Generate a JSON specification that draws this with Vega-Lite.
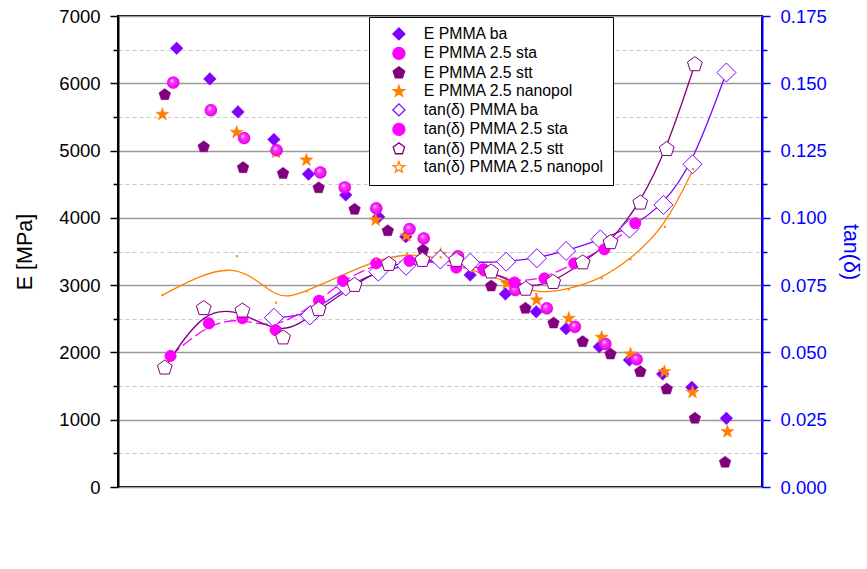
{
  "$schema": "https://vega.github.io/schema/vega-lite/v6.json",
  "width": 644,
  "height": 471,
  "autosize": {"type": "none"},
  "padding": {"left": 118, "top": 16, "right": 105, "bottom": 82},
  "config": {
    "view": {"stroke": "black", "strokeWidth": 2},
    "font": "Liberation Sans"
  },
  "datasets": {
    "edata": [
      {"series": "E PMMA ba", "T": -62.7, "E": 6520},
      {"series": "E PMMA ba", "T": -52.9, "E": 6065},
      {"series": "E PMMA ba", "T": -44.6, "E": 5575},
      {"series": "E PMMA ba", "T": -34.0, "E": 5165},
      {"series": "E PMMA ba", "T": -23.8, "E": 4650},
      {"series": "E PMMA ba", "T": -12.8, "E": 4340},
      {"series": "E PMMA ba", "T": -3.1, "E": 4015},
      {"series": "E PMMA ba", "T": 4.9, "E": 3720},
      {"series": "E PMMA ba", "T": 15.2, "E": 3410},
      {"series": "E PMMA ba", "T": 23.9, "E": 3150},
      {"series": "E PMMA ba", "T": 34.3, "E": 2870},
      {"series": "E PMMA ba", "T": 43.4, "E": 2605},
      {"series": "E PMMA ba", "T": 52.2, "E": 2352},
      {"series": "E PMMA ba", "T": 62.0, "E": 2085},
      {"series": "E PMMA ba", "T": 70.9, "E": 1887},
      {"series": "E PMMA ba", "T": 80.7, "E": 1679},
      {"series": "E PMMA ba", "T": 89.3, "E": 1481},
      {"series": "E PMMA ba", "T": 99.5, "E": 1021},
      {"series": "E PMMA 2.5 sta", "T": -63.7, "E": 6010},
      {"series": "E PMMA 2.5 sta", "T": -52.6, "E": 5600},
      {"series": "E PMMA 2.5 sta", "T": -42.8, "E": 5185},
      {"series": "E PMMA 2.5 sta", "T": -33.2, "E": 5005},
      {"series": "E PMMA 2.5 sta", "T": -20.3, "E": 4675},
      {"series": "E PMMA 2.5 sta", "T": -13.1, "E": 4453},
      {"series": "E PMMA 2.5 sta", "T": -3.8, "E": 4141},
      {"series": "E PMMA 2.5 sta", "T": 6.0, "E": 3833},
      {"series": "E PMMA 2.5 sta", "T": 10.2, "E": 3695},
      {"series": "E PMMA 2.5 sta", "T": 20.3, "E": 3430},
      {"series": "E PMMA 2.5 sta", "T": 28.1, "E": 3222},
      {"series": "E PMMA 2.5 sta", "T": 37.2, "E": 2927},
      {"series": "E PMMA 2.5 sta", "T": 46.5, "E": 2655},
      {"series": "E PMMA 2.5 sta", "T": 54.8, "E": 2380},
      {"series": "E PMMA 2.5 sta", "T": 63.8, "E": 2125},
      {"series": "E PMMA 2.5 sta", "T": 73.0, "E": 1897},
      {"series": "E PMMA 2.5 stt", "T": -66.2, "E": 5830},
      {"series": "E PMMA 2.5 stt", "T": -54.7, "E": 5055},
      {"series": "E PMMA 2.5 stt", "T": -43.1, "E": 4745},
      {"series": "E PMMA 2.5 stt", "T": -31.3, "E": 4660},
      {"series": "E PMMA 2.5 stt", "T": -20.8, "E": 4447},
      {"series": "E PMMA 2.5 stt", "T": -10.2, "E": 4126},
      {"series": "E PMMA 2.5 stt", "T": -0.4, "E": 3808},
      {"series": "E PMMA 2.5 stt", "T": 10.0, "E": 3521},
      {"series": "E PMMA 2.5 stt", "T": 30.1, "E": 2987},
      {"series": "E PMMA 2.5 stt", "T": 40.2, "E": 2655},
      {"series": "E PMMA 2.5 stt", "T": 48.5, "E": 2436},
      {"series": "E PMMA 2.5 stt", "T": 57.1, "E": 2159},
      {"series": "E PMMA 2.5 stt", "T": 65.3, "E": 1976},
      {"series": "E PMMA 2.5 stt", "T": 74.1, "E": 1713},
      {"series": "E PMMA 2.5 stt", "T": 81.9, "E": 1456},
      {"series": "E PMMA 2.5 stt", "T": 90.2, "E": 1021},
      {"series": "E PMMA 2.5 stt", "T": 99.1, "E": 367},
      {"series": "E PMMA 2.5 nanopol", "T": -66.9, "E": 5538},
      {"series": "E PMMA 2.5 nanopol", "T": -45.0, "E": 5270},
      {"series": "E PMMA 2.5 nanopol", "T": -33.4, "E": 4973},
      {"series": "E PMMA 2.5 nanopol", "T": -24.4, "E": 4859},
      {"series": "E PMMA 2.5 nanopol", "T": -4.0, "E": 3967},
      {"series": "E PMMA 2.5 nanopol", "T": 5.1, "E": 3735},
      {"series": "E PMMA 2.5 nanopol", "T": 15.2, "E": 3457},
      {"series": "E PMMA 2.5 nanopol", "T": 34.7, "E": 3027},
      {"series": "E PMMA 2.5 nanopol", "T": 43.5, "E": 2779},
      {"series": "E PMMA 2.5 nanopol", "T": 53.0, "E": 2506},
      {"series": "E PMMA 2.5 nanopol", "T": 62.7, "E": 2224},
      {"series": "E PMMA 2.5 nanopol", "T": 71.2, "E": 1976},
      {"series": "E PMMA 2.5 nanopol", "T": 81.2, "E": 1713},
      {"series": "E PMMA 2.5 nanopol", "T": 89.5, "E": 1407},
      {"series": "E PMMA 2.5 nanopol", "T": 99.8, "E": 822}
    ],
    "tdata": [
      {"series": "tan(δ) PMMA ba", "T": -34.0, "tan": 0.0629},
      {"series": "tan(δ) PMMA ba", "T": -23.4, "tan": 0.0637},
      {"series": "tan(δ) PMMA ba", "T": -12.8, "tan": 0.0745},
      {"series": "tan(δ) PMMA ba", "T": -3.2, "tan": 0.0800},
      {"series": "tan(δ) PMMA ba", "T": 5.0, "tan": 0.0822},
      {"series": "tan(δ) PMMA ba", "T": 15.1, "tan": 0.0845},
      {"series": "tan(δ) PMMA ba", "T": 23.9, "tan": 0.0833},
      {"series": "tan(δ) PMMA ba", "T": 34.5, "tan": 0.0837},
      {"series": "tan(δ) PMMA ba", "T": 43.6, "tan": 0.0850},
      {"series": "tan(δ) PMMA ba", "T": 52.2, "tan": 0.0877},
      {"series": "tan(δ) PMMA ba", "T": 62.3, "tan": 0.0920},
      {"series": "tan(δ) PMMA ba", "T": 70.9, "tan": 0.0960},
      {"series": "tan(δ) PMMA ba", "T": 80.9, "tan": 0.1048},
      {"series": "tan(δ) PMMA ba", "T": 89.5, "tan": 0.1199},
      {"series": "tan(δ) PMMA ba", "T": 99.5, "tan": 0.1540},
      {"series": "tan(δ) PMMA 2.5 sta", "T": -64.5, "tan": 0.0487},
      {"series": "tan(δ) PMMA 2.5 sta", "T": -53.2, "tan": 0.0608},
      {"series": "tan(δ) PMMA 2.5 sta", "T": -43.3, "tan": 0.0627},
      {"series": "tan(δ) PMMA 2.5 sta", "T": -33.5, "tan": 0.0583},
      {"series": "tan(δ) PMMA 2.5 sta", "T": -20.7, "tan": 0.0692},
      {"series": "tan(δ) PMMA 2.5 sta", "T": -13.6, "tan": 0.0766},
      {"series": "tan(δ) PMMA 2.5 sta", "T": -3.8, "tan": 0.0831},
      {"series": "tan(δ) PMMA 2.5 sta", "T": 6.0, "tan": 0.0840},
      {"series": "tan(δ) PMMA 2.5 sta", "T": 10.2, "tan": 0.0843},
      {"series": "tan(δ) PMMA 2.5 sta", "T": 19.8, "tan": 0.0815},
      {"series": "tan(δ) PMMA 2.5 sta", "T": 27.8, "tan": 0.0809},
      {"series": "tan(δ) PMMA 2.5 sta", "T": 37.0, "tan": 0.0760},
      {"series": "tan(δ) PMMA 2.5 sta", "T": 45.8, "tan": 0.0775},
      {"series": "tan(δ) PMMA 2.5 sta", "T": 54.6, "tan": 0.0831},
      {"series": "tan(δ) PMMA 2.5 sta", "T": 63.5, "tan": 0.0883},
      {"series": "tan(δ) PMMA 2.5 sta", "T": 72.6, "tan": 0.0980},
      {"series": "tan(δ) PMMA 2.5 stt", "T": -66.2, "tan": 0.0443},
      {"series": "tan(δ) PMMA 2.5 stt", "T": -54.7, "tan": 0.0664},
      {"series": "tan(δ) PMMA 2.5 stt", "T": -43.3, "tan": 0.0655},
      {"series": "tan(δ) PMMA 2.5 stt", "T": -31.3, "tan": 0.0555},
      {"series": "tan(δ) PMMA 2.5 stt", "T": -20.8, "tan": 0.0660},
      {"series": "tan(δ) PMMA 2.5 stt", "T": -10.2, "tan": 0.0750},
      {"series": "tan(δ) PMMA 2.5 stt", "T": -0.1, "tan": 0.0828},
      {"series": "tan(δ) PMMA 2.5 stt", "T": 9.8, "tan": 0.0843},
      {"series": "tan(δ) PMMA 2.5 stt", "T": 19.8, "tan": 0.0843},
      {"series": "tan(δ) PMMA 2.5 stt", "T": 30.1, "tan": 0.0800},
      {"series": "tan(δ) PMMA 2.5 stt", "T": 40.3, "tan": 0.0736},
      {"series": "tan(δ) PMMA 2.5 stt", "T": 48.4, "tan": 0.0761},
      {"series": "tan(δ) PMMA 2.5 stt", "T": 57.1, "tan": 0.0834},
      {"series": "tan(δ) PMMA 2.5 stt", "T": 65.3, "tan": 0.0909},
      {"series": "tan(δ) PMMA 2.5 stt", "T": 74.1, "tan": 0.1056},
      {"series": "tan(δ) PMMA 2.5 stt", "T": 81.9, "tan": 0.1255},
      {"series": "tan(δ) PMMA 2.5 stt", "T": 90.2, "tan": 0.1570},
      {"series": "tan(δ) PMMA 2.5 nanopol", "T": -66.9, "tan": 0.0713},
      {"series": "tan(δ) PMMA 2.5 nanopol", "T": -44.9, "tan": 0.0858},
      {"series": "tan(δ) PMMA 2.5 nanopol", "T": -33.4, "tan": 0.0685},
      {"series": "tan(δ) PMMA 2.5 nanopol", "T": -24.3, "tan": 0.0727},
      {"series": "tan(δ) PMMA 2.5 nanopol", "T": -3.9, "tan": 0.0845},
      {"series": "tan(δ) PMMA 2.5 nanopol", "T": 5.2, "tan": 0.0867},
      {"series": "tan(δ) PMMA 2.5 nanopol", "T": 15.2, "tan": 0.0853},
      {"series": "tan(δ) PMMA 2.5 nanopol", "T": 24.4, "tan": 0.0802},
      {"series": "tan(δ) PMMA 2.5 nanopol", "T": 34.7, "tan": 0.0766},
      {"series": "tan(δ) PMMA 2.5 nanopol", "T": 43.4, "tan": 0.0717},
      {"series": "tan(δ) PMMA 2.5 nanopol", "T": 53.0, "tan": 0.0734},
      {"series": "tan(δ) PMMA 2.5 nanopol", "T": 62.7, "tan": 0.0775},
      {"series": "tan(δ) PMMA 2.5 nanopol", "T": 71.2, "tan": 0.0846},
      {"series": "tan(δ) PMMA 2.5 nanopol", "T": 81.4, "tan": 0.0967},
      {"series": "tan(δ) PMMA 2.5 nanopol", "T": 89.7, "tan": 0.1181}
    ]
  },
  "layer": [
    {
      "data": {"name": "edata"},
      "mark": {"type": "point", "opacity": 1, "strokeWidth": 0.5},
      "encoding": {
        "x": {"field": "T", "type": "quantitative", "scale": {"domain": [-80, 110], "nice": false, "zero": false},
          "axis": {
            "orient": "bottom",
            "values": [-80, -70, -60, -50, -40, -30, -20, -10, 0, 10, 20, 30, 40, 50, 60, 70, 80, 90, 100],
            "labelExpr": "datum.value % 20 === 0 ? '' + datum.value : ''",
            "title": "T [°C]", "titleFontSize": 21.5, "titleFont": "Liberation Sans", "titleFontWeight": "normal", "titleColor": "black", "titlePadding": 19,
            "labelFontSize": 18.5, "labelFont": "Liberation Sans", "labelColor": "black", "labelPadding": 7,
            "domainColor": "black", "domainWidth": 2,
            "tickColor": "black", "tickWidth": 1.5,
            "tickSize": {"condition": {"test": "datum.value % 20 === 0", "value": 8}, "value": 5},
            "grid": true,
            "gridColor": {"condition": {"test": "datum.value % 20 === 0", "value": "#9a9a9a"}, "value": "#c8c8c8"},
            "gridDash": {"condition": {"test": "datum.value % 20 === 0", "value": []}, "value": [4, 3]},
            "gridWidth": {"condition": {"test": "datum.value % 20 === 0", "value": 1.3}, "value": 1}
          }
        },
        "y": {"field": "E", "type": "quantitative", "scale": {"domain": [0, 7000], "nice": false, "zero": false},
          "axis": {
            "orient": "left",
            "values": [0, 500, 1000, 1500, 2000, 2500, 3000, 3500, 4000, 4500, 5000, 5500, 6000, 6500, 7000],
            "labelExpr": "datum.value % 1000 === 0 ? '' + datum.value : ''",
            "title": "E [MPa]", "titleFontSize": 21.5, "titleFont": "Liberation Sans", "titleFontWeight": "normal", "titleColor": "black", "titlePadding": 22,
            "labelFontSize": 18.5, "labelFont": "Liberation Sans", "labelColor": "black", "labelPadding": 10,
            "domainColor": "black", "domainWidth": 2,
            "tickColor": "black", "tickWidth": 1.5,
            "tickSize": {"condition": {"test": "datum.value % 1000 === 0", "value": 8}, "value": 5},
            "grid": true,
            "gridColor": {"condition": {"test": "datum.value % 1000 === 0", "value": "#9a9a9a"}, "value": "#c8c8c8"},
            "gridDash": {"condition": {"test": "datum.value % 1000 === 0", "value": []}, "value": [4, 3]},
            "gridWidth": {"condition": {"test": "datum.value % 1000 === 0", "value": 1.3}, "value": 1}
          }
        },
        "shape": {"field": "series", "type": "nominal",
          "scale": {"domain": ["E PMMA ba", "E PMMA 2.5 sta", "E PMMA 2.5 stt", "E PMMA 2.5 nanopol", "tan(δ) PMMA ba", "tan(δ) PMMA 2.5 sta", "tan(δ) PMMA 2.5 stt", "tan(δ) PMMA 2.5 nanopol"],
            "range": ["M-1,0L0,-1L1,0L0,1Z", "circle", "M0,-1L0.951,-0.309L0.588,0.809L-0.588,0.809L-0.951,-0.309Z", "M0,-1L0.235,-0.324L0.951,-0.309L0.38,0.124L0.588,0.809L0,0.4L-0.588,0.809L-0.38,0.124L-0.951,-0.309L-0.235,-0.324Z", "M-1,0L0,-1L1,0L0,1Z", "circle", "M0,-1L0.951,-0.309L0.588,0.809L-0.588,0.809L-0.951,-0.309Z", "M0,-1L0.235,-0.324L0.951,-0.309L0.38,0.124L0.588,0.809L0,0.4L-0.588,0.809L-0.38,0.124L-0.951,-0.309L-0.235,-0.324Z"]},
          "legend": {
            "orient": "none", "legendX": 251, "legendY": 1, "title": null,
            "strokeColor": "black", "fillColor": "white", "padding": 9,
            "labelFont": "Liberation Sans", "labelFontSize": 15.8, "labelColor": "black", "labelLimit": 400,
            "rowPadding": 1.5, "symbolOffset": 13, "labelOffset": 17, "symbolStrokeWidth": 1.3, "symbolSize": 144,
            "encode": {"symbols": {"update": {
              "shape": {"signal": "['M-1,0L0,-1L1,0L0,1Z', 'circle', 'M0,-1L0.951,-0.309L0.588,0.809L-0.588,0.809L-0.951,-0.309Z', 'M0,-1L0.235,-0.324L0.951,-0.309L0.38,0.124L0.588,0.809L0,0.4L-0.588,0.809L-0.38,0.124L-0.951,-0.309L-0.235,-0.324Z', 'M-3.4,0L-1,0M1,0L3.4,0M-1,0L0,-1L1,0L0,1Z', 'M-3.4,0L-0.8,0M0.8,0L3.1,0M0.28,0A0.28,0.28,0,1,1,-0.28,0A0.28,0.28,0,1,1,0.28,0Z', 'M-3.4,0L-0.85,0M0.85,0L3.4,0M0,-1L0.951,-0.309L0.588,0.809L-0.588,0.809L-0.951,-0.309Z', 'M-3.4,0L-0.55,0M0.55,0L3.4,0M0,-1L0.235,-0.324L0.951,-0.309L0.38,0.124L0.588,0.809L0,0.4L-0.588,0.809L-0.38,0.124L-0.951,-0.309L-0.235,-0.324Z'][indexof(['E PMMA ba', 'E PMMA 2.5 sta', 'E PMMA 2.5 stt', 'E PMMA 2.5 nanopol', 'tan(δ) PMMA ba', 'tan(δ) PMMA 2.5 sta', 'tan(δ) PMMA 2.5 stt', 'tan(δ) PMMA 2.5 nanopol'], datum.value)]"}
            }}}
          }
        },
        "fill": {"field": "series", "type": "nominal",
          "scale": {"domain": ["E PMMA ba", "E PMMA 2.5 sta", "E PMMA 2.5 stt", "E PMMA 2.5 nanopol", "tan(δ) PMMA ba", "tan(δ) PMMA 2.5 sta", "tan(δ) PMMA 2.5 stt", "tan(δ) PMMA 2.5 nanopol"],
            "range": ["#8000FF", "#FF00FF", "#800080", "#FF8000", "white", "#FF00FF", "white", "white"]}
        },
        "stroke": {"field": "series", "type": "nominal",
          "scale": {"domain": ["E PMMA ba", "E PMMA 2.5 sta", "E PMMA 2.5 stt", "E PMMA 2.5 nanopol", "tan(δ) PMMA ba", "tan(δ) PMMA 2.5 sta", "tan(δ) PMMA 2.5 stt", "tan(δ) PMMA 2.5 nanopol"],
            "range": ["#8000FF", "#FF00FF", "#800080", "#FF8000", "#8000FF", "#FF00FF", "#800080", "#FF8000"]}
        },
        "size": {"field": "series", "type": "nominal", "legend": null,
          "scale": {"type": "ordinal", "domain": ["E PMMA ba", "E PMMA 2.5 sta", "E PMMA 2.5 stt", "E PMMA 2.5 nanopol", "tan(δ) PMMA ba", "tan(δ) PMMA 2.5 sta", "tan(δ) PMMA 2.5 stt", "tan(δ) PMMA 2.5 nanopol"],
            "range": [160, 144, 150, 190, 150, 16, 160, 121]}
        }
      }
    },
    {
      "data": {"name": "edata"},
      "transform": [{"filter": "datum.series === 'E PMMA 2.5 sta'"}],
      "mark": {"type": "point", "shape": "circle", "size": 140, "opacity": 1, "strokeWidth": 0,
        "fill": {"gradient": "radial", "x1": 0.38, "y1": 0.32, "r1": 0, "x2": 0.5, "y2": 0.5, "r2": 0.55, "stops": [{"offset": 0, "color": "#ffe8ff"}, {"offset": 0.35, "color": "#ff33ff"}, {"offset": 1, "color": "#e000e0"}]}},
      "encoding": {
        "x": {"field": "T", "type": "quantitative", "scale": {"domain": [-80, 110], "nice": false, "zero": false}, "axis": null},
        "y": {"field": "E", "type": "quantitative", "scale": {"domain": [0, 7000], "nice": false, "zero": false}, "axis": null}
      }
    },
    {
      "data": {"name": "tdata"},
      "transform": [{"filter": "datum.series === 'tan(δ) PMMA ba'"}],
      "mark": {"type": "line", "interpolate": "basis", "stroke": "#8000FF", "strokeWidth": 1.3},
      "encoding": {
        "x": {"field": "T", "type": "quantitative", "scale": {"domain": [-80, 110], "nice": false, "zero": false}, "axis": null},
        "y": {"field": "tan", "type": "quantitative", "scale": {"domain": [0, 0.175], "nice": false, "zero": false},
          "axis": {
            "orient": "right",
            "values": [0, 0.0125, 0.025, 0.0375, 0.05, 0.0625, 0.075, 0.0875, 0.1, 0.1125, 0.125, 0.1375, 0.15, 0.1625, 0.175],
            "labelExpr": "abs(datum.value*40 - round(datum.value*40)) < 0.001 ? format(datum.value, '.3f') : ''",
            "title": "tan(δ)", "titleFontSize": 21.5, "titleFont": "Liberation Sans", "titleFontWeight": "normal", "titleColor": "#0000FF", "titlePadding": 12,
            "labelFontSize": 18.5, "labelFont": "Liberation Sans", "labelColor": "#0000FF", "labelPadding": 10,
            "domainColor": "#0000FF", "domainWidth": 2,
            "tickColor": "#0000FF", "tickWidth": 1.5,
            "tickSize": {"condition": {"test": "abs(datum.value*40 - round(datum.value*40)) < 0.001", "value": 8}, "value": 5},
            "grid": false
          }
        }
      }
    },
    {
      "data": {"name": "tdata"},
      "transform": [{"filter": "datum.series === 'tan(δ) PMMA 2.5 sta'"}],
      "mark": {"type": "line", "interpolate": "basis", "stroke": "#FF00FF", "strokeWidth": 1.3, "strokeDash": [12, 4]},
      "encoding": {
        "x": {"field": "T", "type": "quantitative", "scale": {"domain": [-80, 110], "nice": false, "zero": false}, "axis": null},
        "y": {"field": "tan", "type": "quantitative", "scale": {"domain": [0, 0.175], "nice": false, "zero": false}, "axis": null}
      }
    },
    {
      "data": {"name": "tdata"},
      "transform": [{"filter": "datum.series === 'tan(δ) PMMA 2.5 stt'"}],
      "mark": {"type": "line", "interpolate": "basis", "stroke": "#800080", "strokeWidth": 1.3},
      "encoding": {
        "x": {"field": "T", "type": "quantitative", "scale": {"domain": [-80, 110], "nice": false, "zero": false}, "axis": null},
        "y": {"field": "tan", "type": "quantitative", "scale": {"domain": [0, 0.175], "nice": false, "zero": false}, "axis": null}
      }
    },
    {
      "data": {"name": "tdata"},
      "transform": [{"filter": "datum.series === 'tan(δ) PMMA 2.5 nanopol'"}],
      "mark": {"type": "line", "interpolate": "basis", "stroke": "#FF8000", "strokeWidth": 1.3},
      "encoding": {
        "x": {"field": "T", "type": "quantitative", "scale": {"domain": [-80, 110], "nice": false, "zero": false}, "axis": null},
        "y": {"field": "tan", "type": "quantitative", "scale": {"domain": [0, 0.175], "nice": false, "zero": false}, "axis": null}
      }
    },
    {
      "data": {"name": "tdata"},
      "mark": {"type": "point", "opacity": 1, "strokeWidth": 1},
      "encoding": {
        "x": {"field": "T", "type": "quantitative", "scale": {"domain": [-80, 110], "nice": false, "zero": false}, "axis": null},
        "y": {"field": "tan", "type": "quantitative", "scale": {"domain": [0, 0.175], "nice": false, "zero": false}, "axis": null},
        "shape": {"field": "series", "type": "nominal", "legend": null},
        "fill": {"field": "series", "type": "nominal", "legend": null},
        "stroke": {"field": "series", "type": "nominal", "legend": null},
        "size": {"field": "series", "type": "nominal", "legend": null}
      }
    }
  ],
  "resolve": {"scale": {"y": "independent"}}
}
